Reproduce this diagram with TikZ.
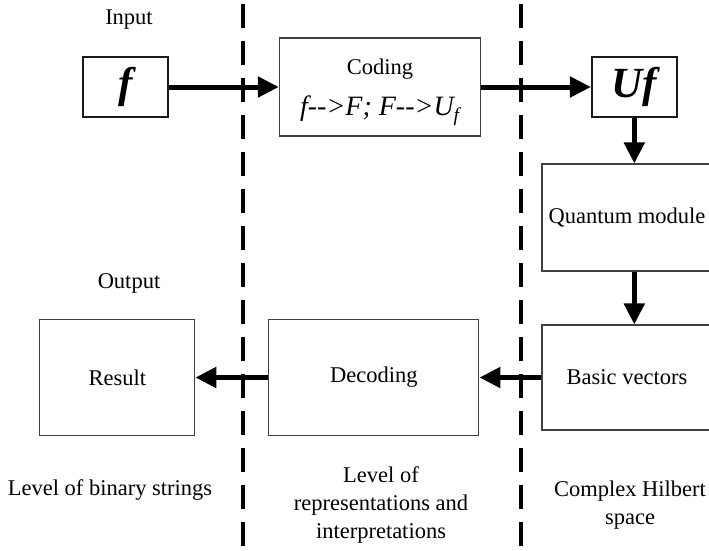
\documentclass[tikz,border=0pt]{standalone}
\usepackage{fontspec}
\setmainfont{Liberation Serif}
\usetikzlibrary{
positioning,
arrows.meta
}
\tikzset{
box/.style={
draw=black!75,
line width=1.1pt,
align=center,
inner sep=0pt,
font=\fontsize{22.5}{27}\selectfont
},
smallbox/.style={
draw=black!90,
line width=1.7pt,
align=center,
inner sep=0pt,
minimum width=85pt,
minimum height=60pt,
font=\fontsize{43}{46}\selectfont\bfseries\itshape
},
lbl/.style={
align=center,
inner sep=0pt,
font=\fontsize{22.5}{28}\selectfont
},
arrow/.style={
-{Triangle[length=21pt,width=20pt]},
line width=5pt
},
divider/.style={
line width=3.6pt,
dash pattern=on 24pt off 13pt
}
}
\begin{document}
\begin{tikzpicture}[x=1pt,y=-1pt]
\useasboundingbox (0,0) rectangle (709,550);
\clip (0,0) rectangle (709,550);

\node[smallbox] (inp) at (125.5,87) {f};
\node[box, minimum width=201pt, minimum height=98pt, right=110pt of inp] (coding)
  {\rule{0pt}{26pt}Coding\\[14pt]{\fontsize{28}{30}\selectfont\textit{f-{}->F; F-{}->U\textsubscript{f}}}};
\node[smallbox, right=110pt of coding] (uf) {Uf};
\node[box, minimum width=170pt, minimum height=107pt] (quant) at (627,217.5) {Quantum module};
\node[box, minimum width=170pt, minimum height=105pt] (basic) at (627,377.5) {Basic vectors};
\node[box, minimum width=210pt, minimum height=116pt, left=62pt of basic] (decod) {Decoding};
\node[box, minimum width=155pt, minimum height=116pt, left=73pt of decod] (result) {Result};

\node[lbl] (input) at (129,20) {Input};
\node[lbl] (output) at (129,283) {Output};
\node[lbl] (binary) at (110,490) {Level of binary strings};
\node[lbl] (repr) at (381,505) {Level of\\representations and\\interpretations};
\node[lbl] (hilbert) at (630,505) {Complex Hilbert\\space};

\draw[arrow] (inp) -- (coding);
\draw[arrow] (coding) -- (uf);
\draw[arrow] (uf.south) -- (uf.south |- quant.north);
\draw[arrow] (uf.south |- quant.south) -- (uf.south |- basic.north);
\draw[arrow] (basic) -- (decod);
\draw[arrow] (decod) -- (result);

% level boundaries
\draw[divider] (243,4) -- (243,550);
\draw[divider] (521,4) -- (521,550);

\end{tikzpicture}
\end{document}
